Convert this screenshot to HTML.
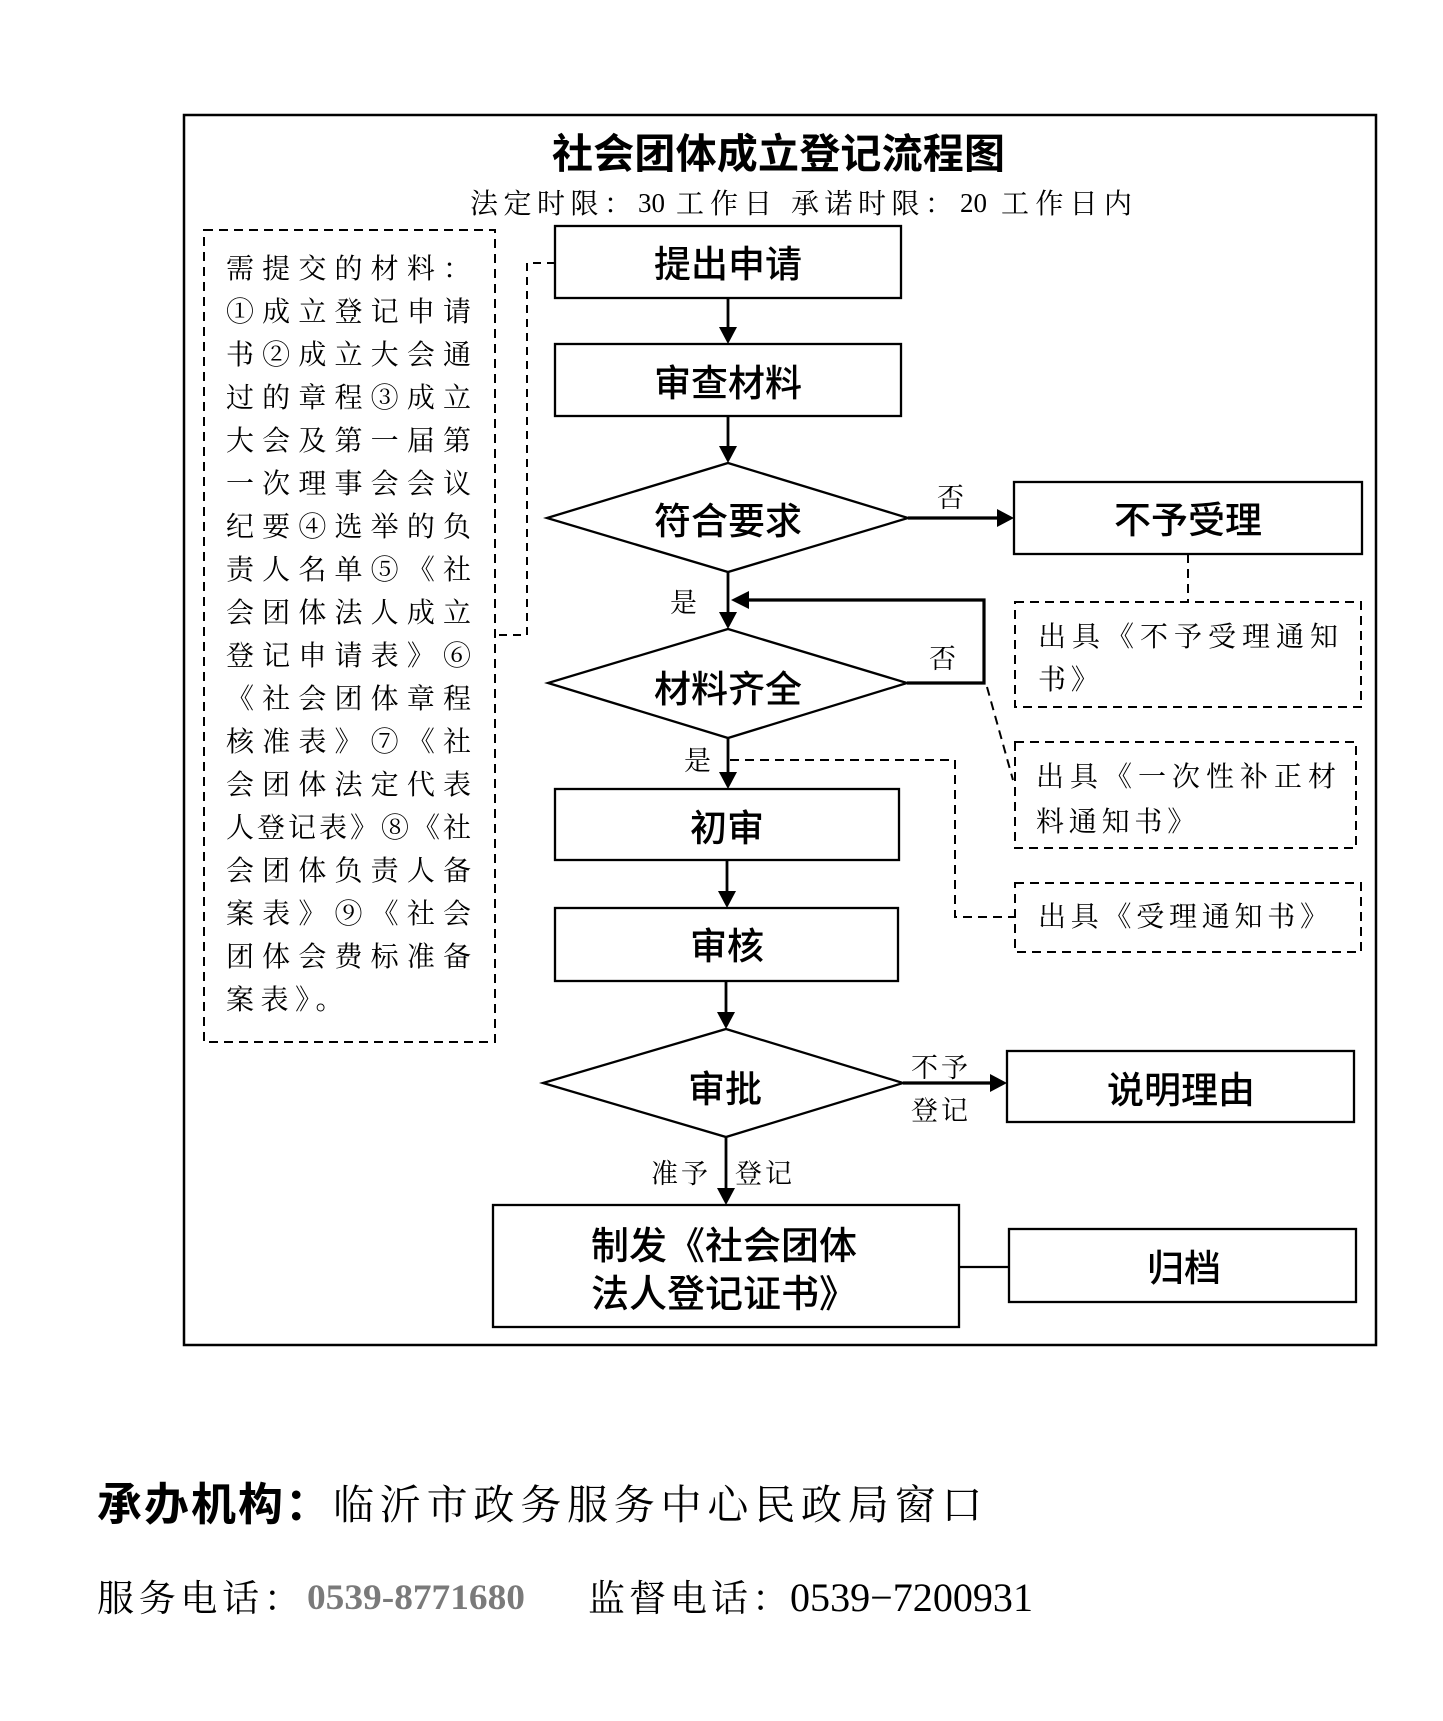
<!DOCTYPE html>
<html>
<head>
<meta charset="utf-8">
<style>
  html,body{margin:0;padding:0;background:#fff;}
  svg{display:block;}
  .sans{font-family:"Liberation Sans","Noto Sans CJK SC",sans-serif;}
  .serif{font-family:"Liberation Serif","Noto Serif CJK SC",serif;}
</style>
</head>
<body>
<svg width="1443" height="1721" viewBox="0 0 1443 1721" xmlns="http://www.w3.org/2000/svg">
  <rect x="0" y="0" width="1443" height="1721" fill="#fff"/>

  <!-- outer border -->
  <rect x="184" y="115" width="1192" height="1230" fill="none" stroke="#000" stroke-width="2.5"/>

  <!-- title -->
  <text class="sans" x="552" y="168" font-size="41" font-weight="700" textLength="453" lengthAdjust="spacing">社会团体成立登记流程图</text>

  <!-- subtitle -->
  <g class="serif" font-size="28" fill="#000">
    <text x="470" y="213" textLength="162" lengthAdjust="spacing">法定时限：</text>
    <text x="638" y="212" font-size="27" font-family="Liberation Serif, serif">30</text>
    <text x="676" y="213" textLength="96" lengthAdjust="spacing">工作日</text>
    <text x="791" y="213" textLength="162" lengthAdjust="spacing">承诺时限：</text>
    <text x="960" y="212" font-size="27" font-family="Liberation Serif, serif">20</text>
    <text x="1001" y="213" textLength="131" lengthAdjust="spacing">工作日内</text>
  </g>

  <!-- left dashed materials box -->
  <rect x="204" y="230" width="291" height="812" fill="none" stroke="#000" stroke-width="2" stroke-dasharray="9 6"/>
  <g class="serif" font-size="28" fill="#000">
    <text x="226" y="278" textLength="245" lengthAdjust="spacing">需提交的材料：</text>
    <text x="226" y="321" textLength="245" lengthAdjust="spacing">①成立登记申请</text>
    <text x="226" y="364" textLength="245" lengthAdjust="spacing">书②成立大会通</text>
    <text x="226" y="407" textLength="245" lengthAdjust="spacing">过的章程③成立</text>
    <text x="226" y="450" textLength="245" lengthAdjust="spacing">大会及第一届第</text>
    <text x="226" y="493" textLength="245" lengthAdjust="spacing">一次理事会会议</text>
    <text x="226" y="536" textLength="245" lengthAdjust="spacing">纪要④选举的负</text>
    <text x="226" y="579" textLength="245" lengthAdjust="spacing">责人名单⑤《社</text>
    <text x="226" y="622" textLength="245" lengthAdjust="spacing">会团体法人成立</text>
    <text x="226" y="665" textLength="245" lengthAdjust="spacing">登记申请表》⑥</text>
    <text x="226" y="708" textLength="245" lengthAdjust="spacing">《社会团体章程</text>
    <text x="226" y="751" textLength="245" lengthAdjust="spacing">核准表》⑦《社</text>
    <text x="226" y="794" textLength="245" lengthAdjust="spacing">会团体法定代表</text>
    <text x="226" y="837" textLength="245" lengthAdjust="spacing">人登记表》⑧《社</text>
    <text x="226" y="880" textLength="245" lengthAdjust="spacing">会团体负责人备</text>
    <text x="226" y="923" textLength="245" lengthAdjust="spacing">案表》⑨《社会</text>
    <text x="226" y="966" textLength="245" lengthAdjust="spacing">团体会费标准备</text>
    <text x="226" y="1009" letter-spacing="6.5">案表》。</text>
  </g>

  <!-- dashed connector from 提出申请 to materials box -->
  <polyline points="555,263 527,263 527,635 495,635" fill="none" stroke="#000" stroke-width="2" stroke-dasharray="8 6"/>

  <!-- main boxes -->
  <g fill="none" stroke="#000" stroke-width="2.3">
    <rect x="555" y="226" width="346" height="72"/>
    <rect x="555" y="344" width="346" height="72"/>
    <polygon points="728,463 908,518 728,572 547,518"/>
    <rect x="1014" y="482" width="348" height="72"/>
    <polygon points="728,629 907,683 728,738 548,683"/>
    <rect x="555" y="789" width="344" height="71"/>
    <rect x="555" y="908" width="343" height="73"/>
    <polygon points="726,1029 903,1083 726,1137 543,1083"/>
    <rect x="1007" y="1051" width="347" height="71"/>
    <rect x="493" y="1205" width="466" height="122"/>
    <rect x="1009" y="1229" width="347" height="73"/>
  </g>

  <!-- dashed right boxes -->
  <g fill="none" stroke="#000" stroke-width="2" stroke-dasharray="9 6">
    <rect x="1015" y="602" width="346" height="105"/>
    <rect x="1015" y="742" width="341" height="106"/>
    <rect x="1015" y="883" width="346" height="69"/>
    <line x1="1188" y1="554" x2="1188" y2="602"/>
    <polyline points="730,760 955,760 955,917 1015,917"/>
    <line x1="987" y1="687" x2="1013" y2="780"/>
  </g>

  <!-- solid connectors -->
  <g fill="none" stroke="#000" stroke-width="2.8">
    <line x1="728" y1="298" x2="728" y2="330"/>
    <line x1="728" y1="416" x2="728" y2="448"/>
    <line x1="728" y1="572" x2="728" y2="614"/>
    <line x1="728" y1="738" x2="728" y2="774"/>
    <line x1="727" y1="860" x2="727" y2="893"/>
    <line x1="726" y1="981" x2="726" y2="1014"/>
    <line x1="726" y1="1137" x2="726" y2="1190"/>
    <line x1="908" y1="518" x2="999" y2="518" stroke-width="3.2"/>
    <line x1="903" y1="1083" x2="992" y2="1083" stroke-width="3.2"/>
    <polyline points="907,683 984,683 984,600 747,600" stroke-width="3.2"/>
    <line x1="959" y1="1267" x2="1009" y2="1267" stroke-width="2.3"/>
  </g>

  <!-- arrowheads -->
  <g fill="#000" stroke="none">
    <polygon points="719,327 737,327 728,344"/>
    <polygon points="719,446 737,446 728,463"/>
    <polygon points="719,612 737,612 728,629"/>
    <polygon points="719,772 737,772 728,789"/>
    <polygon points="718,891 736,891 727,908"/>
    <polygon points="717,1012 735,1012 726,1029"/>
    <polygon points="717,1188 735,1188 726,1205"/>
    <polygon points="997,509 997,527 1014,518"/>
    <polygon points="990,1074 990,1092 1007,1083"/>
    <polygon points="749,591 749,609 731,600"/>
  </g>

  <!-- box labels -->
  <g class="sans" font-size="37" font-weight="500" fill="#000" text-anchor="middle">
    <text x="728" y="277">提出申请</text>
    <text x="728" y="396">审查材料</text>
    <text x="728" y="534">符合要求</text>
    <text x="1188" y="533">不予受理</text>
    <text x="728" y="702">材料齐全</text>
    <text x="727" y="841">初审</text>
    <text x="727" y="959">审核</text>
    <text x="725" y="1102">审批</text>
    <text x="1181" y="1103">说明理由</text>
    <text x="1184" y="1281">归档</text>
  </g>
  <g class="sans" font-size="38" font-weight="500" fill="#000">
    <text x="591" y="1259">制发《社会团体</text>
    <text x="591" y="1307">法人登记证书》</text>
  </g>

  <!-- edge labels -->
  <g class="serif" font-size="27" fill="#000">
    <text x="937" y="507">否</text>
    <text x="670" y="612">是</text>
    <text x="929" y="668">否</text>
    <text x="684" y="770">是</text>
    <text x="911" y="1077" letter-spacing="3">不予</text>
    <text x="911" y="1120" letter-spacing="3">登记</text>
    <text x="651" y="1183" letter-spacing="3">准予</text>
    <text x="735" y="1183" letter-spacing="3">登记</text>
  </g>

  <!-- dashed box texts -->
  <g class="serif" font-size="28" fill="#000">
    <text x="1038" y="646" textLength="300" lengthAdjust="spacing">出具《不予受理通知</text>
    <text x="1038" y="689" letter-spacing="4.8">书》</text>
    <text x="1036" y="786" textLength="300" lengthAdjust="spacing">出具《一次性补正材</text>
    <text x="1036" y="831" letter-spacing="4.8">料通知书》</text>
    <text x="1038" y="926" textLength="290" lengthAdjust="spacing">出具《受理通知书》</text>
  </g>

  <!-- footer -->
  <text class="sans" x="97" y="1520" font-size="45" font-weight="700" letter-spacing="2">承办机构：</text>
  <text class="serif" x="333" y="1519" font-size="41" letter-spacing="5.8">临沂市政务服务中心民政局窗口</text>
  <text class="serif" x="97" y="1611" font-size="37" letter-spacing="4.7">服务电话：</text>
  <text x="307" y="1609" font-family="Liberation Serif, serif" font-size="36" font-weight="700" fill="#7a7a7a" textLength="218" lengthAdjust="spacingAndGlyphs">0539-8771680</text>
  <text class="serif" x="588" y="1611" font-size="37" letter-spacing="4">监督电话：</text>
  <text x="790" y="1611" font-family="Liberation Serif, serif" font-size="40" fill="#000" textLength="243" lengthAdjust="spacingAndGlyphs">0539−7200931</text>
</svg>
</body>
</html>
